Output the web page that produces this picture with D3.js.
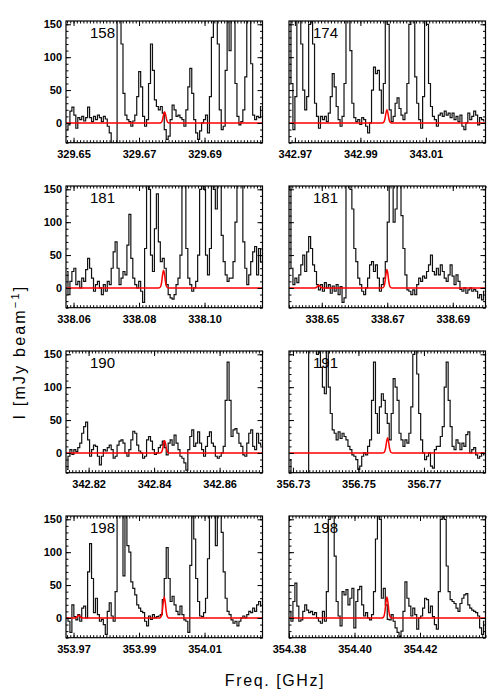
<!DOCTYPE html>
<html><head><meta charset="utf-8">
<script src="https://cdn.jsdelivr.net/npm/d3@7"></script>
<style>body{margin:0;background:#fff}</style>
</head><body><svg id="c" width="500" height="700"></svg>
<script>
// ---------------- data ----------------
const panelLabels = ["158","174","181","181","190","191","198","198"];
const startFreq = [329.6477, 342.9682, 338.0577, 338.640, 342.8131, 356.7288, 353.9677, 354.380];
const chanWidth = 0.0006;   // GHz per channel
const span = 0.06;          // GHz per panel
const tickLabels = [
  ["329.65","329.67","329.69"],
  ["342.97","342.99","343.01"],
  ["338.06","338.08","338.10"],
  ["338.65","338.67","338.69"],
  ["342.82","342.84","342.86"],
  ["356.73","356.75","356.77"],
  ["353.97","353.99","354.01"],
  ["354.38","354.40","354.42"]
];
const yTicks = [0, 50, 100, 150];
const yDomain = [-30, 155];

const s1 = [-10,-3,18,24,12,-8,8,5,10,3,
 8,24,8,2,10,5,12,8,2,10,
 6,-5,-15,-35,-40,-40,220,250,120,45,
 12,5,2,-5,3,12,40,78,55,10,
 -5,5,60,120,80,35,25,20,25,15,
 -10,-25,-20,5,27,20,10,12,8,5,
 -5,20,55,83,45,5,-15,-25,-12,0,
 5,12,-15,40,130,250,260,120,20,-10,
 -5,80,200,110,200,170,60,10,-3,2,
 20,70,160,220,90,12,5,10,8,25];
const s2 = [200,60,-10,40,180,250,120,50,20,40,
 150,230,120,30,10,-8,10,5,10,2,
 15,40,75,55,25,5,-5,10,60,180,
 250,110,30,8,2,5,-2,8,5,-5,
 -15,0,50,85,75,80,50,15,60,250,
 150,20,2,10,30,38,22,12,5,15,
 60,150,250,180,70,30,5,-8,40,200,
 150,60,25,10,5,-5,12,15,10,18,
 12,15,8,15,5,10,2,12,-5,-10,
 0,15,5,10,18,12,-3,8,5,3];
const s3 = [25,-10,10,25,30,5,10,0,15,10,
 28,45,30,15,-5,5,10,0,-10,5,
 -5,10,5,30,55,70,30,5,15,25,
 20,65,112,45,15,5,0,10,-5,-22,
 60,220,150,50,25,90,143,70,40,45,
 30,5,-10,-15,-17,-10,5,15,50,200,
 180,60,15,5,-5,0,10,50,150,230,
 150,50,20,60,200,150,120,220,180,80,
 40,20,10,15,15,40,100,200,250,180,
 70,30,5,20,40,55,63,20,60,40];
const s4 = [200,30,5,15,8,20,35,50,25,55,
 78,60,35,25,5,-3,5,-5,8,0,
 5,-8,3,-5,5,-10,2,-22,-15,200,
 250,150,120,60,40,15,5,-5,-10,0,
 15,35,40,25,35,15,-5,5,15,40,
 100,220,250,100,120,230,200,110,60,20,
 -3,-5,-10,-3,-10,5,15,10,18,15,
 25,35,50,25,20,30,20,35,25,15,
 10,20,35,18,5,20,10,-2,-5,0,
 -8,-3,0,-5,-2,-5,-15,-10,-18,-5];
const s5 = [-25,-5,5,-2,5,2,8,15,30,40,
 47,20,-5,5,12,10,-5,-18,-5,5,
 3,8,12,5,-8,-5,12,18,20,15,
 0,-5,5,20,33,30,12,3,0,-8,
 -5,20,25,18,5,-2,0,8,12,18,
 8,-3,15,20,12,27,15,5,-5,-8,
 -15,-26,5,25,35,10,15,32,15,5,
 -5,10,25,32,15,10,-5,-8,-5,0,
 10,80,138,80,25,35,37,30,15,10,
 -3,-5,15,30,35,10,5,30,15,12];
const s6 = [-10,-38,-40,-40,-40,-40,-40,-40,-40,-40,
 250,260,240,200,150,170,130,100,90,160,
 100,60,35,30,20,32,22,30,25,20,
 10,5,-3,-5,-10,-25,-20,-5,0,-3,
 10,20,80,138,60,30,70,90,80,60,
 45,20,60,113,100,80,30,20,10,20,
 15,30,70,150,220,120,60,20,0,-10,
 -5,0,-20,-23,5,10,10,25,40,100,
 138,80,40,10,5,20,15,5,15,10,
 28,32,0,5,8,-3,-8,-5,0,-3];
const s7 = [0,-5,-22,20,2,-3,5,-5,15,18,
 0,70,113,60,8,30,5,-5,-2,-10,
 -25,10,23,3,-5,40,160,230,200,64,
 200,110,100,55,45,35,20,15,10,8,
 -5,-12,3,-2,5,0,2,3,5,28,
 60,107,60,25,33,20,10,5,18,5,
 -3,-5,-22,80,220,120,60,25,3,2,
 8,30,90,160,240,190,110,200,230,130,
 70,30,10,5,-3,-8,-5,-12,-5,0,
 3,0,5,10,8,15,10,20,25,18];
const s8 = [10,-5,25,53,18,-5,-3,10,20,12,
 8,10,5,8,0,-5,-8,10,-5,40,
 150,250,200,94,25,3,-12,40,35,43,
 20,30,45,-15,25,43,48,20,3,8,
 0,-3,5,40,120,260,150,30,45,20,
 -2,-3,5,-5,-15,-22,-28,-20,10,55,
 30,18,3,15,5,-17,0,3,15,30,
 28,8,18,2,-10,-17,40,150,260,150,
 79,40,28,25,22,15,10,22,30,35,
 37,20,15,12,10,8,3,-15,-25,-5];
const spectra = [s1, s2, s3, s4, s5, s6, s7, s8];

// red model lines: [centre GHz, peak mJy/beam]
const redPeaks = [
  [[329.6778, 17]],
  [[342.9981, 20]],
  [[338.0875, 27]],
  [[338.6491, 4], [338.6699, 28]],
  [[342.8432, 19]],
  [[356.7589, 23]],
  [[353.9716, 4], [353.9977, 32]],
  [[354.4099, 32]]
];
// line profile (offset in GHz, fraction of peak)
const profileOffsets = [-0.0016,-0.0012,-0.0009,-0.0006,-0.0003,0,0.0003,0.0006,0.0009,0.0012,0.0016];
const profileShape   = [0,0.02,0.08,0.32,0.75,1,0.75,0.32,0.08,0.02,0];

// ---------------- drawing ----------------
const svg = d3.select("#c");
const colX = [66, 289], rowY = [21, 186, 351, 516];
const pw = 196.5, ph = 121.7;
const tickFont = "'Liberation Sans', Arial, sans-serif";

spectra.forEach((vals, p) => {
  const col = p % 2, row = Math.floor(p / 2);
  const x0 = colX[col], y0 = rowY[row];
  const f0 = startFreq[p], f1 = f0 + span;
  const x = d3.scaleLinear().domain([f0, f1]).range([x0, x0 + pw]);
  const y = d3.scaleLinear().domain(yDomain).range([y0 + ph, y0]);
  const g = svg.append("g");

  const clipId = "clip" + p;
  svg.append("clipPath").attr("id", clipId).append("rect")
    .attr("x", x0).attr("y", y0).attr("width", pw).attr("height", ph);

  // spectrum (histogram style)
  const pts = vals.map((v, i) => [f0 + (i + 0.5) * chanWidth, v]);
  const stepLine = d3.line().x(d => x(d[0])).y(d => y(d[1])).curve(d3.curveStep);
  g.append("path").datum(pts).attr("clip-path", `url(#${clipId})`)
    .attr("d", stepLine).attr("fill", "none").attr("stroke", "#111")
    .attr("stroke-width", 1.2);

  // red model
  let rp = [[f0, 0]];
  redPeaks[p].forEach(([c, a]) => {
    profileOffsets.forEach((o, k) => rp.push([c + o, a * profileShape[k]]));
  });
  rp.push([f1, 0]);
  rp.sort((a, b) => a[0] - b[0]);
  const smooth = d3.line().x(d => x(d[0])).y(d => y(d[1])).curve(d3.curveMonotoneX);
  g.append("path").datum(rp).attr("clip-path", `url(#${clipId})`)
    .attr("d", smooth).attr("fill", "none").attr("stroke", "#ff0000").attr("stroke-width", 1.5);

  // frame
  g.append("rect").attr("x", x0).attr("y", y0).attr("width", pw).attr("height", ph)
    .attr("fill", "none").attr("stroke", "#000").attr("stroke-width", 1.2);

  const majorX = tickLabels[p].map(Number);
  const minorX = d3.range(Math.ceil(f0 / 0.001), Math.floor(f1 / 0.001) + 1).map(k => k * 0.001);
  const minorY = d3.range(-30, 151, 10);

  const axes = [
    [d3.axisBottom(x).tickValues(majorX).tickFormat((d, i) => tickLabels[p][i]).tickSizeInner(-5).tickSizeOuter(0).tickPadding(8), `translate(0,${y0 + ph})`],
    [d3.axisBottom(x).tickValues(minorX).tickFormat("").tickSizeInner(-2.5).tickSizeOuter(0), `translate(0,${y0 + ph})`],
    [d3.axisTop(x).tickValues(majorX).tickFormat("").tickSizeInner(-5).tickSizeOuter(0), `translate(0,${y0})`],
    [d3.axisTop(x).tickValues(minorX).tickFormat("").tickSizeInner(-2.5).tickSizeOuter(0), `translate(0,${y0})`],
    [d3.axisLeft(y).tickValues(yTicks).tickFormat(col === 0 ? d3.format("d") : "").tickSizeInner(-5).tickSizeOuter(0).tickPadding(4), `translate(${x0},0)`],
    [d3.axisLeft(y).tickValues(minorY).tickFormat("").tickSizeInner(-2.5).tickSizeOuter(0), `translate(${x0},0)`],
    [d3.axisRight(y).tickValues(yTicks).tickFormat("").tickSizeInner(-5).tickSizeOuter(0), `translate(${x0 + pw},0)`],
    [d3.axisRight(y).tickValues(minorY).tickFormat("").tickSizeInner(-2.5).tickSizeOuter(0), `translate(${x0 + pw},0)`]
  ];
  axes.forEach(([ax, tr]) => {
    const a = g.append("g").attr("transform", tr).call(ax);
    a.select(".domain").remove();
    a.selectAll("line").attr("stroke", "#000").attr("stroke-width", 1);
    a.selectAll("text").attr("fill", "#000").style("font-family", tickFont)
      .style("font-size", "11px").style("font-weight", "bold");
  });

  // panel label
  g.append("text").attr("x", x0 + 24).attr("y", y0 + 17)
    .style("font-family", tickFont).style("font-size", "15px").attr("fill", "#000")
    .text(panelLabels[p]);
});

// axis titles
svg.append("text").attr("x", 275).attr("y", 686).attr("text-anchor", "middle")
  .style("font-family", tickFont).style("font-size", "16px").style("letter-spacing", "1.6px")
  .text("Freq. [GHz]");
const yl = svg.append("text").attr("transform", "translate(25,352) rotate(-90)")
  .attr("text-anchor", "middle")
  .style("font-family", tickFont).style("font-size", "16px").style("letter-spacing", "2.2px");
yl.append("tspan").text("I [mJy beam");
yl.append("tspan").attr("dy", -6).style("font-size", "11px").text("−1");
yl.append("tspan").attr("dy", 6).text("]");
</script>
</body></html>
